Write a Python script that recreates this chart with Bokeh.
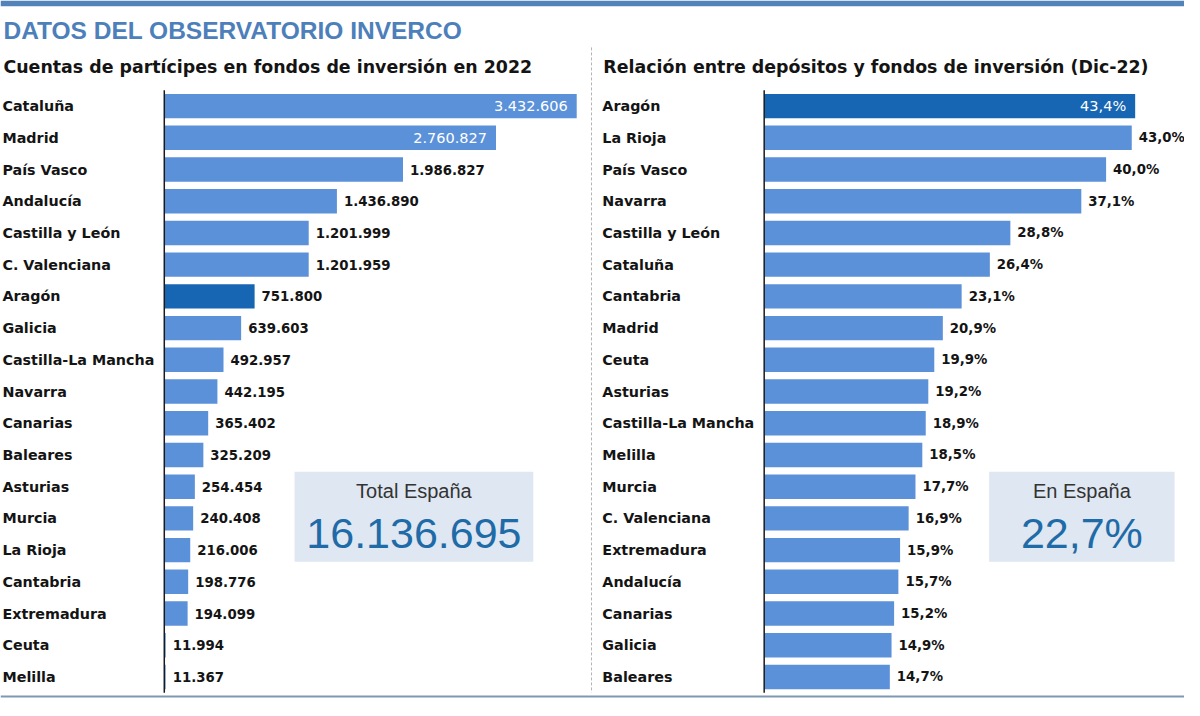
from bokeh.plotting import figure
from bokeh.models import Range1d, ColumnDataSource, BoxAnnotation, Label, Span
from bokeh.embed import file_html
from bokeh.resources import INLINE
from bokeh.core.properties import value

# ---------------- data ----------------
TITLE = "DATOS DEL OBSERVATORIO INVERCO"
LEFT_TITLE = "Cuentas de partícipes en fondos de inversión en 2022"
RIGHT_TITLE = "Relación entre depósitos y fondos de inversión (Dic-22)"

left_regions = ["Cataluña", "Madrid", "País Vasco", "Andalucía", "Castilla y León",
                "C. Valenciana", "Aragón", "Galicia", "Castilla-La Mancha", "Navarra",
                "Canarias", "Baleares", "Asturias", "Murcia", "La Rioja", "Cantabria",
                "Extremadura", "Ceuta", "Melilla"]
left_accounts = [3432606, 2760827, 1986827, 1436890, 1201999, 1201959, 751800, 639603,
                 492957, 442195, 365402, 325209, 254454, 240408, 216006, 198776,
                 194099, 11994, 11367]

right_regions = ["Aragón", "La Rioja", "País Vasco", "Navarra", "Castilla y León",
                 "Cataluña", "Cantabria", "Madrid", "Ceuta", "Asturias",
                 "Castilla-La Mancha", "Melilla", "Murcia", "C. Valenciana",
                 "Extremadura", "Andalucía", "Canarias", "Galicia", "Baleares"]
right_ratio = [43.4, 43.0, 40.0, 37.1, 28.8, 26.4, 23.1, 20.9, 19.9, 19.2, 18.9, 18.5,
               17.7, 16.9, 15.9, 15.7, 15.2, 14.9, 14.7]

HIGHLIGHT = "Aragón"
LEFT_INSIDE = ["Cataluña", "Madrid"]
RIGHT_INSIDE = ["Aragón"]

TOTAL_LABEL = "Total España"
TOTAL_VALUE = "16.136.695"
SPAIN_LABEL = "En España"
SPAIN_VALUE = "22,7%"

# ---------------- styles / layout ----------------
W, H = 1184, 700            # canvas
LW, LH = 1200, 716          # layout units
BAR = "#5b91d9"
BAR_HI = "#1766b4"
TITLE_BLUE = "#4d7fba"
BOX_FILL = "#dfe7f2"
BOX_BLUE = "#1e6ba8"
INK = "#141414"
BOLD = "DejaVu Sans"
SANS = "Liberation Sans"

ROW0, PITCH = 108, 32.44
L_ZERO, L_SPAN = 166, 418
R_ZERO, R_SPAN = 774, 376


def fmt_int(v):
    return f"{v:,}".replace(",", ".")


def fmt_pct(v):
    return f"{v:.1f}".replace(".", ",") + "%"


lmax = max(left_accounts)
rmax = max(right_ratio)

p = figure(width=W, height=H, x_range=Range1d(0, LW), y_range=Range1d(LH, 0),
           output_backend="svg", toolbar_location=None, min_border=0,
           x_axis_location=None, y_axis_location=None,
           outline_line_color=None, background_fill_color="white",
           border_fill_color="white")
p.grid.visible = False

p.extra_y_ranges = {"rows": Range1d((LH - ROW0) / PITCH, -ROW0 / PITCH)}
lk = L_SPAN / lmax
rk = R_SPAN / rmax
p.extra_x_ranges = {
    "left": Range1d(-L_ZERO / lk, (LW - L_ZERO) / lk),
    "right": Range1d(-R_ZERO / rk, (LW - R_ZERO) / rk),
}

# decorations
p.add_layout(BoxAnnotation(top=0, bottom=6, fill_color="#5383bb", fill_alpha=1,
                           line_color=None))
p.add_layout(Span(location=712, dimension="width", line_color="#7e97b3", line_width=2))
p.segment(x0=[599], x1=[599], y0=[48], y1=[708], line_color="#b5b5b5",
          line_width=1, line_dash="3 2")

p.add_layout(Label(x=3, y=31, text=TITLE, text_font=SANS,
                   text_font_style="bold", text_font_size="24.5px",
                   text_color=TITLE_BLUE, text_baseline="alphabetic"))
p.add_layout(Label(x=3, y=68, text=LEFT_TITLE, text_font=BOLD,
                   text_font_style="bold", text_font_size="17.4px",
                   text_color=INK, text_baseline="alphabetic"))
p.add_layout(Label(x=611, y=68, text=RIGHT_TITLE, text_font=BOLD,
                   text_font_style="bold", text_font_size="17.4px",
                   text_color=INK, text_baseline="alphabetic"))


def panel(regions, vals, range_name, label_x, inside, fmt):
    idx = list(range(len(regions)))
    colors = [BAR_HI if r == HIGHLIGHT else BAR for r in regions]
    src = ColumnDataSource(dict(idx=idx, val=vals, color=colors, name=regions,
                                lx=[label_x] * len(regions)))
    p.hbar(y="idx", left=0, right="val", height=0.77, fill_color="color",
           line_color=None, source=src, x_range_name=range_name, y_range_name="rows")
    p.segment(x0=[0], x1=[0], y0=[-0.5], y1=[len(regions) - 0.5], line_color="#1a1a1a",
              line_width=1.5, x_range_name=range_name, y_range_name="rows")
    p.text(x="lx", y="idx", text="name", source=src, y_range_name="rows",
           text_font=value(BOLD), text_font_style="bold", text_font_size="14.3px",
           text_color=INK, text_baseline="middle", text_align="left")
    ins = [i for i, r in enumerate(regions) if r in inside]
    out = [i for i, r in enumerate(regions) if r not in inside]
    src_in = ColumnDataSource(dict(idx=ins, val=[vals[i] for i in ins],
                                   t=[fmt(vals[i]) for i in ins]))
    src_out = ColumnDataSource(dict(idx=out, val=[vals[i] for i in out],
                                    t=[fmt(vals[i]) for i in out]))
    p.text(x="val", y="idx", text="t", source=src_in, x_range_name=range_name,
           y_range_name="rows", x_offset=-9, text_font=value(BOLD),
           text_font_style="normal", text_font_size="14.5px", text_color="white",
           text_baseline="middle", text_align="right")
    p.text(x="val", y="idx", text="t", source=src_out, x_range_name=range_name,
           y_range_name="rows", x_offset=7, text_font=value(BOLD),
           text_font_style="bold", text_font_size="13.3px", text_color=INK,
           text_baseline="middle", text_align="left")


panel(left_regions, left_accounts, "left", 2, LEFT_INSIDE, fmt_int)
panel(right_regions, right_ratio, "right", 610, RIGHT_INSIDE, fmt_pct)

# summary boxes
for (x0, x1, lab, val) in [(298, 540, TOTAL_LABEL, TOTAL_VALUE),
                           (1002, 1190, SPAIN_LABEL, SPAIN_VALUE)]:
    p.add_layout(BoxAnnotation(left=x0, right=x1, top=482, bottom=574,
                               fill_color=BOX_FILL, fill_alpha=1, line_color=None))
    cx = (x0 + x1) / 2
    p.add_layout(Label(x=cx, y=502, text=lab, text_font=SANS,
                       text_font_size="20px", text_color="#333333",
                       text_align="center", text_baseline="middle"))
    p.add_layout(Label(x=cx, y=545, text=val, text_font=SANS,
                       text_font_size="43px", text_color=BOX_BLUE,
                       text_align="center", text_baseline="middle"))

open("out.html", "w").write(file_html(p, INLINE))
